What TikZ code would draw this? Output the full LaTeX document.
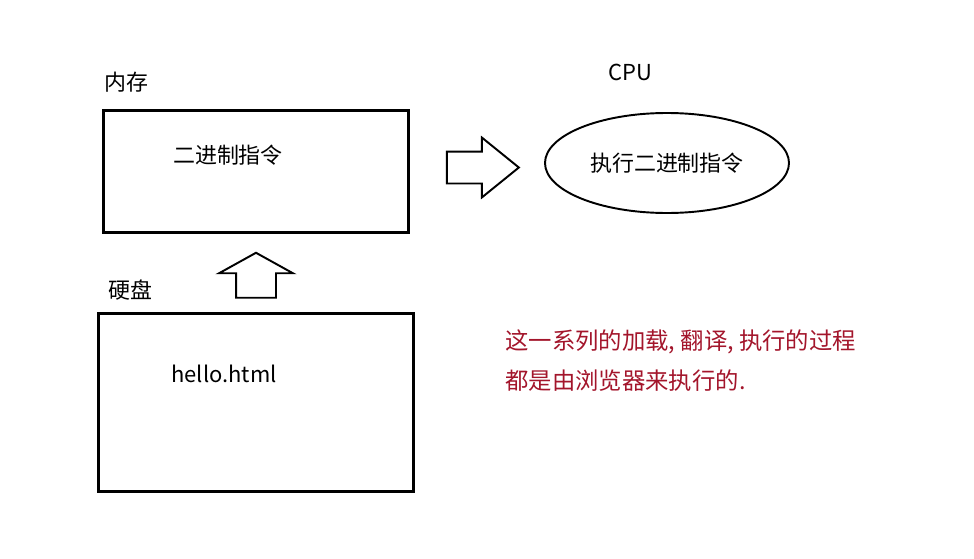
\documentclass[tikz,border=0pt]{standalone}
\usepackage{fontspec}
\setmainfont{Noto Sans CJK SC}
\usepackage{xcolor}
\usetikzlibrary{shapes.geometric,shapes.arrows,calc}
\definecolor{notered}{RGB}{163,21,43}

\begin{document}
\begin{tikzpicture}[
  box/.style={draw, line width=1.7pt, inner sep=0pt},
  blockarrow/.style={draw, line width=1.1pt, single arrow},
  every node/.style={font=\fontsize{12.5}{15}\selectfont}
]
\useasboundingbox (0,0) rectangle (19.48,11.16);

% Memory
\node[box, minimum width=6.1cm, minimum height=2.44cm] (mem) at (5.12,7.73) {};
\node[anchor=west, inner sep=0pt] (memlabel) at (2.08,9.52) {内存};
\node (code) at (4.56,8.06) {二进制指令};

% Disk
\node[box, minimum width=6.3cm, minimum height=3.56cm] (disk) at (5.12,3.11) {};
\node[anchor=west, inner sep=0pt] (disklabel) at (2.16,5.36) {硬盘};
\node (file) at (4.48,3.68) {hello.html};

% CPU
\node[draw, ellipse, line width=1.1pt, minimum width=4.88cm, minimum height=2cm, inner sep=0pt] (cpu) at (13.34,7.9) {执行二进制指令};
\node (cpulabel) at (12.6,9.72) {CPU};

% Connections
\node[blockarrow, shape border rotate=90, inner xsep=0.38cm, inner ysep=0.2cm, minimum height=0.9cm,
      single arrow head extend=0.34cm, single arrow tip angle=122] (load)
      at ($(disk.north)!0.4!(mem.south)$) {};
\node[blockarrow, inner sep=0.3cm, minimum height=1.44cm,
      single arrow head extend=0.28cm, single arrow tip angle=78] (run)
      at ($(mem.east)!0.47!(cpu.west)$) {};

% Note
\node[anchor=west, align=left, inner sep=0pt, text=notered,
      font=\fontsize{13.3}{23.2}\selectfont] (note) at (10.1,3.95)
  {这一系列的加载, 翻译, 执行的过程\\都是由浏览器来执行的.};
\end{tikzpicture}
\end{document}
